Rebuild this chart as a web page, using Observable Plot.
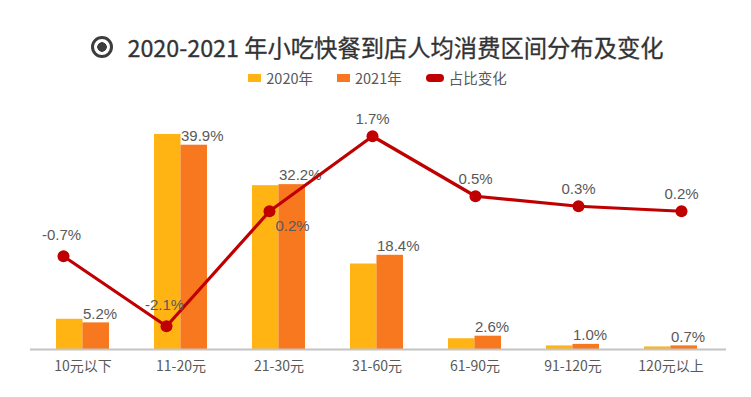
<!DOCTYPE html>
<html><head><meta charset="utf-8">
<script src="https://cdn.jsdelivr.net/npm/d3@7"></script>
<script src="https://cdn.jsdelivr.net/npm/@observablehq/plot@0.6"></script>
<style>
body{margin:0;background:#fff;font-family:"Noto Sans CJK SC","Noto Sans",sans-serif;}
#wrap{width:751px;height:397px;position:relative;overflow:hidden;background:#fff}
#title{height:62px;box-sizing:border-box;padding-top:32px;line-height:30px;font-size:23.3px;font-weight:400;color:#333;text-align:center;white-space:nowrap;padding-left:4px;-webkit-text-stroke:0.3px #333}
#title .icon{display:inline-block;width:16px;height:16px;border:3px solid #3d3d3d;border-radius:50%;vertical-align:-1px;margin-right:14px;background:radial-gradient(circle,#3d3d3d 0 4.5px,transparent 5px)}
#legend{margin-top:6px;height:20px;line-height:20px;display:flex;justify-content:center;gap:24px;font-size:14.5px;color:#595959;padding-left:4px}
#legend span.it{display:flex;align-items:center;gap:5px}
#legend i{display:inline-block}
#chart{position:relative;width:751px;height:309px}
#chart svg{position:absolute;left:0;top:0}
</style></head>
<body><div id="wrap">
<div id="title"><span class="icon"></span>2020-2021 年小吃快餐到店人均消费区间分布及变化</div>
<div id="legend"></div>
<div id="chart"></div>
</div>
<script>
const categories = ["10元以下","11-20元","21-30元","31-60元","61-90元","91-120元","120元以上"];
const share2020 = [5.9, 42.0, 32.0, 16.7, 2.1, 0.7, 0.5];
const share2021 = [5.2, 39.9, 32.2, 18.4, 2.6, 1.0, 0.7];
const shareChange = [-0.7, -2.1, 0.2, 1.7, 0.5, 0.3, 0.2];
const seriesNames = ["2020年","2021年","占比变化"];
const colors = ["#FFB414","#F7781E","#C00000"];

const rows = categories.map((c,i)=>({cat:c, v2020:share2020[i], v2021:share2021[i], chg:shareChange[i]}));

// legend
const lg = document.getElementById("legend");
seriesNames.forEach((n,i)=>{
  const s = document.createElement("span"); s.className="it";
  const sw = document.createElement("i");
  if(i<2){sw.style.cssText=`width:13px;height:8px;background:${colors[i]}`;}
  else{sw.style.cssText=`width:18px;height:8px;border-radius:4px;background:${colors[i]}`;}
  s.appendChild(sw); s.appendChild(document.createTextNode(n)); lg.appendChild(s);
});

const W = 751, H = 309, mT = 30.6, mB = 48;
const yMax = 45;
const bandL = 33, bandR = 32;
const step = (W - bandL - bandR) / categories.length;
const half = step * 0.54 / 2;
const fmt = v => v.toFixed(1) + "%";
const numFont = '"Liberation Sans",Arial,sans-serif';
const baseStyle = {fontFamily: '"Noto Sans CJK SC","Noto Sans",sans-serif', fontSize: "14px", color: "#595959", background: "transparent"};

// primary chart: grouped bars
const bars = Plot.plot({
  width: W, height: H,
  marginLeft: bandL, marginRight: bandR, marginTop: mT, marginBottom: mB,
  style: baseStyle,
  x: {type: "band", domain: categories, paddingInner: 0.46, paddingOuter: 0.23, label: null, tickSize: 0, tickPadding: 12},
  y: {domain: [0, yMax], axis: null},
  marks: [
    Plot.barY(rows, {x: "cat", y: "v2020", fill: colors[0], insetRight: half}),
    Plot.barY(rows, {x: "cat", y: "v2021", fill: colors[1], insetLeft: half}),
    Plot.ruleY([0], {stroke: "#c4c4c4", strokeWidth: 2, insetLeft: -3, insetRight: -7}),
    Plot.text(rows, {x: "cat", y: "v2021", text: d => fmt(d.v2021), textAnchor: "start", dy: -9, fill: "#595959", fontSize: 15, fontFamily: numFont})
  ]
});

// secondary chart: change line on its own x (point) and y scales
const above = rows.filter(d => d.cat !== "21-30元");
const line = Plot.plot({
  width: W, height: H,
  marginLeft: 62, marginRight: 69, marginTop: mT, marginBottom: mB,
  style: baseStyle,
  x: {type: "point", domain: categories, padding: 0, axis: null},
  y: {domain: [-2.565, 2.043], axis: null},
  marks: [
    Plot.line(rows, {x: "cat", y: "chg", stroke: colors[2], strokeWidth: 3.2}),
    Plot.dot(rows, {x: "cat", y: "chg", r: 6, fill: colors[2]}),
    Plot.text(above.filter(d => d.chg >= 0), {x: "cat", y: "chg", text: d => fmt(d.chg), dy: -17, fill: "#595959", fontSize: 15, fontFamily: numFont}),
    Plot.text(above.filter(d => d.chg < 0), {x: "cat", y: "chg", text: d => fmt(d.chg), dy: -21, dx: -2, fill: "#595959", fontSize: 15, fontFamily: numFont}),
    Plot.text(rows.filter(d => d.cat === "21-30元"), {x: "cat", y: "chg", text: d => fmt(d.chg), dy: 15, dx: 6, textAnchor: "start", fill: "#595959", fontSize: 15, fontFamily: numFont})
  ]
});
const c = document.getElementById("chart");
c.appendChild(bars);
c.appendChild(line);
</script>
</body></html>
